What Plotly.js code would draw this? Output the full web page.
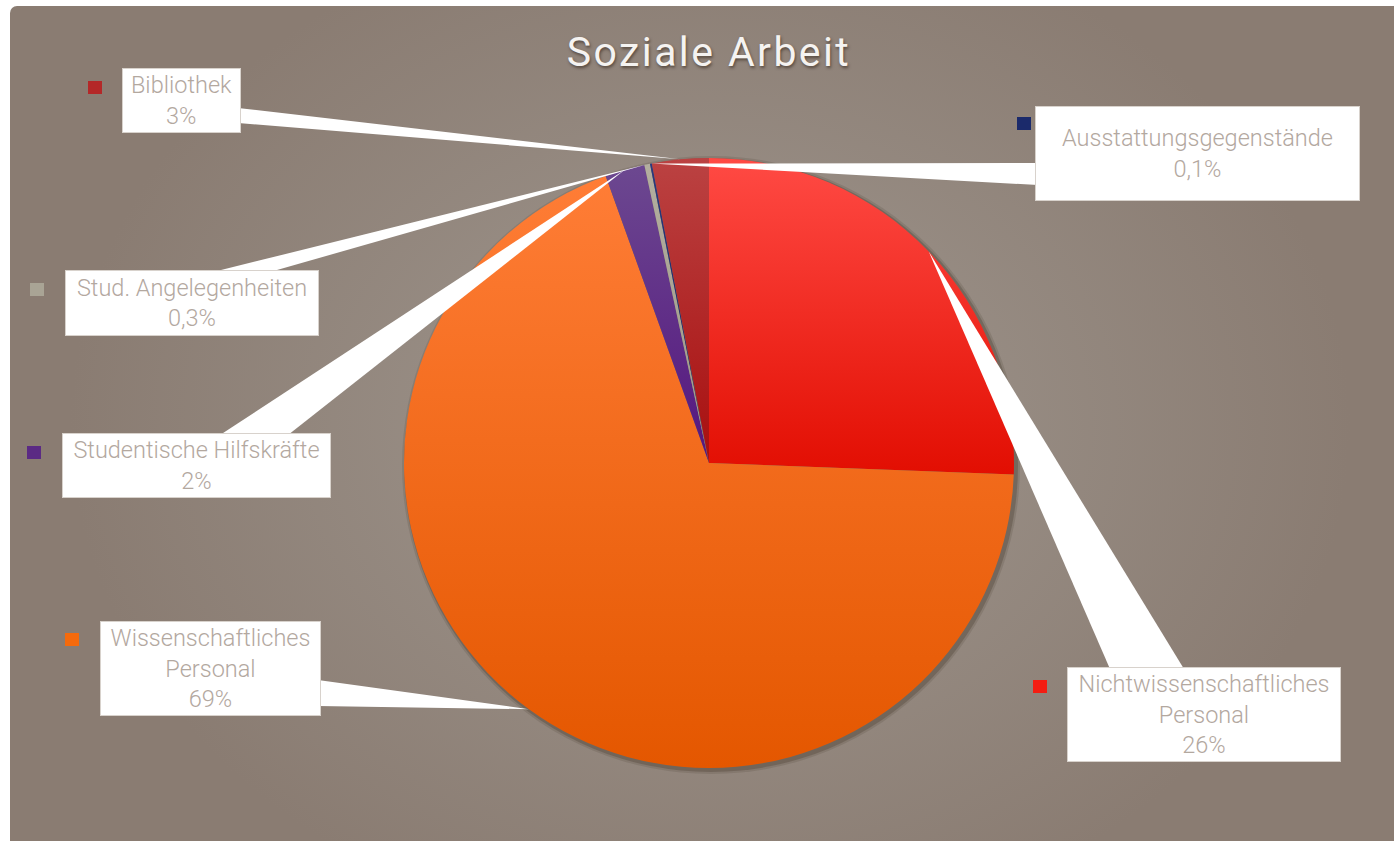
<!DOCTYPE html>
<html>
<head>
<meta charset="utf-8">
<script src="https://cdn.plot.ly/plotly-3.0.1.min.js"></script>
<style>
  html, body { margin: 0; padding: 0; background: #ffffff; }
  #bg {
    position: absolute; left: 10px; top: 6px; width: 1384px; height: 835px;
    border-top-left-radius: 7px;
    background: radial-gradient(ellipse 640px 520px at 700px 420px, #a1978f 0%, #968b82 45%, #8a7c72 100%);
  }
  #chart { position: absolute; left: 0; top: 0; width: 1394px; height: 841px; }
  #chart .gtitle { letter-spacing: 2.4px; }
</style>
</head>
<body>
<div id="bg"></div>
<div id="chart"></div>
<script>
// ---- data ----
const categories = ["Nichtwissenschaftliches Personal", "Wissenschaftliches Personal", "Studentische Hilfskräfte", "Stud. Angelegenheiten", "Ausstattungsgegenstände", "Bibliothek"];
const labelLines = ["Nichtwissenschaftliches<br>Personal", "Wissenschaftliches<br>Personal", "Studentische Hilfskräfte", "Stud. Angelegenheiten", "Ausstattungsgegenstände", "Bibliothek"];
const shares = [25.6, 68.9, 2.1, 0.3, 0.1, 3.0];
const shareLabels = ["26%", "69%", "2%", "0,3%", "0,1%", "3%"];
const colors = ["#f41d12", "#f56a0c", "#5b2a84", "#a9a495", "#1b2a6b", "#b42828"];
// gradient stops (top, bottom) used to shade each slice
const gradTop = ["#ff4a44", "#ff7d36", "#6c4890", "#b3ae9f", "#2a3a80", "#bb4242"];
const gradBottom = ["#e20e02", "#e45700", "#55167f", "#9e9988", "#101e5e", "#a80f0f"];

// ---- layout geometry (pixels) ----
const W = 1394, H = 841;
const CX = 709, CY = 463, R = 305;
// label boxes: [left, top, right, bottom]
const boxes = [
  [1067, 667, 1341, 762],
  [100, 621, 321, 716],
  [62, 433, 331, 498],
  [65, 270, 319, 336],
  [1035, 106, 1360, 201],
  [122, 68, 241, 133]
];
// leader base points (two points on the box edge)
const leaderBase = [
  [[1110, 669], [1184, 669]],
  [[318, 680], [318, 706]],
  [[220, 435], [288, 435]],
  [[213, 272], [270, 272]],
  [[1038, 163], [1038, 185]],
  [[238, 108], [238, 123]]
];
// legend squares (left, top), size
const squares = [[1033, 680], [65, 633], [27, 446], [30, 283], [1017, 117], [88, 81]];
const SQ = 14;

const px = x => x / W;
const py = y => 1 - y / H;

const total = shares.reduce((a, b) => a + b, 0);
let cum = 0;
const shapes = [];
const annotations = [];
shares.forEach((v, i) => {
  const mid = (cum + v / 2) / total * 2 * Math.PI;
  cum += v;
  const ax = CX + R * Math.sin(mid), ay = CY - R * Math.cos(mid);
  const b = leaderBase[i];
  shapes.push({
    type: "path", xref: "paper", yref: "paper", layer: "above",
    path: `M ${px(ax)},${py(ay)} L ${px(b[0][0])},${py(b[0][1])} L ${px(b[1][0])},${py(b[1][1])} Z`,
    fillcolor: "#ffffff", line: { width: 0 }
  });
  const s = squares[i];
  shapes.push({
    type: "rect", xref: "paper", yref: "paper", layer: "above",
    x0: px(s[0]), x1: px(s[0] + SQ), y0: py(s[1] + SQ - 1), y1: py(s[1]),
    fillcolor: colors[i], line: { width: 0 }
  });
  const bx = boxes[i];
  annotations.push({
    xref: "paper", yref: "paper",
    x: px((bx[0] + bx[2]) / 2), y: py((bx[1] + bx[3]) / 2),
    xanchor: "center", yanchor: "middle",
    width: bx[2] - bx[0] - 2, height: bx[3] - bx[1] - 2,
    text: labelLines[i] + "<br>" + shareLabels[i],
    showarrow: false, align: "center", valign: "middle",
    bgcolor: "#ffffff", bordercolor: "#d8d2cc", borderwidth: 1, borderpad: 0,
    font: { family: "Roboto, 'Open Sans', sans-serif", size: 23.5, weight: 300, color: "#b3a89f" }
  });
});

function dom(off, grow) {
  return {
    x: [px(CX - R - grow + off), px(CX + R + grow + off)],
    y: [py(CY + R + grow + off), py(CY - R - grow + off)]
  };
}

const traces = [
  { type: "pie", values: [1], labels: ["s1"], domain: dom(2, 4), sort: false, textinfo: "none",
    hoverinfo: "skip", marker: { colors: ["rgba(45,30,20,0.12)"], line: { width: 0 } }, showlegend: false },
  { type: "pie", values: [1], labels: ["s2"], domain: dom(2, 2), sort: false, textinfo: "none",
    hoverinfo: "skip", marker: { colors: ["rgba(45,30,20,0.22)"], line: { width: 0 } }, showlegend: false },
  { type: "pie", values: shares, labels: categories, domain: dom(0, 0), sort: false,
    direction: "clockwise", rotation: 0, textinfo: "none", hoverinfo: "label+percent",
    marker: { colors: colors, line: { width: 0 } }, showlegend: false }
];

const layout = {
  width: W, height: H,
  margin: { l: 0, r: 0, t: 0, b: 0 },
  paper_bgcolor: "rgba(0,0,0,0)", plot_bgcolor: "rgba(0,0,0,0)",
  showlegend: false,
  title: {
    text: "Soziale Arbeit", x: px(709), xanchor: "center", y: py(52), yanchor: "middle",
    font: { family: "Roboto, 'Open Sans', sans-serif", size: 41, color: "#f5f3f1",
            shadow: "1px 2px 3px rgba(40,25,15,0.55)" }
  },
  shapes: shapes,
  annotations: annotations
};

Plotly.newPlot("chart", traces, layout, { displayModeBar: false, staticPlot: true }).then(gd => {
  // vertical shading of each slice of the main pie (and legend squares)
  const svg = gd.querySelector("svg.main-svg");
  const NS = "http://www.w3.org/2000/svg";
  let defs = svg.querySelector("defs");
  if (!defs) { defs = document.createElementNS(NS, "defs"); svg.insertBefore(defs, svg.firstChild); }
  colors.forEach((c, i) => {
    const g = document.createElementNS(NS, "linearGradient");
    g.setAttribute("id", "sliceGrad" + i);
    g.setAttribute("x1", "0"); g.setAttribute("y1", "0"); g.setAttribute("x2", "0"); g.setAttribute("y2", "1");
    [[0, gradTop[i]], [1, gradBottom[i]]].forEach(([o, col]) => {
      const s = document.createElementNS(NS, "stop");
      s.setAttribute("offset", o); s.setAttribute("stop-color", col);
      g.appendChild(s);
    });
    defs.appendChild(g);
  });
  const pies = gd.querySelectorAll("g.pielayer g.trace");
  const main = pies[pies.length - 1];
  main.querySelectorAll("g.slice path.surface").forEach((p, i) => {
    p.style.fill = "url(#sliceGrad" + i + ")";
  });
});
</script>
</body>
</html>
